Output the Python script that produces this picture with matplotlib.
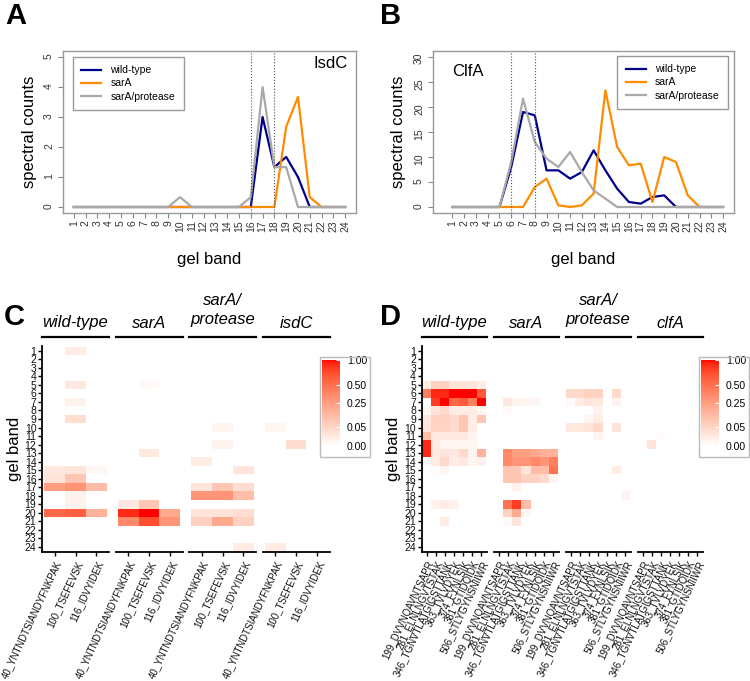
import numpy as np
import matplotlib.pyplot as plt
from matplotlib import colors, cm
from matplotlib.patches import Rectangle

plt.rcParams['font.family'] = ['Liberation Sans', 'DejaVu Sans']

W, H = 750, 681

bands = list(range(1, 25))

# A - IsdC spectral counts per gel band
isdc_wt = [0, 0, 0, 0, 0, 0, 0, 0, 0, 0, 0, 0, 0, 0, 0, 0, 3.0, 1.33, 1.67, 1.0, 0, 0, 0, 0]
isdc_sara = [0, 0, 0, 0, 0, 0, 0, 0, 0, 0, 0, 0, 0, 0, 0, 0, 0, 0, 2.67, 3.67, 0.33, 0, 0, 0]
isdc_prot = [0, 0, 0, 0, 0, 0, 0, 0, 0, 0.33, 0, 0, 0, 0, 0, 0.33, 4.0, 1.33, 1.33, 0, 0, 0, 0, 0]

# B - ClfA spectral counts per gel band
clfa_wt = [0, 0, 0, 0, 0, 8.0, 19.0, 18.33, 7.33, 7.33, 5.67, 7.0, 11.33, 7.33, 3.67, 1.0, 0.67, 2.0, 2.33, 0, 0, 0, 0, 0]
clfa_sara = [0, 0, 0, 0, 0, 0, 0, 4.0, 5.67, 0.33, 0, 0.33, 2.67, 23.33, 12.0, 8.33, 8.67, 1.0, 10.0, 9.0, 2.33, 0, 0, 0]
clfa_prot = [0, 0, 0, 0, 0, 9.0, 21.67, 13.0, 9.67, 8.0, 11.0, 7.0, 3.33, 1.67, 0, 0, 0, 0, 0, 0, 0, 0, 0, 0]

strains = ['wild-type', 'sarA', 'sarA/protease']

# C - IsdC peptides, cells as (gel band, peptide index, normalised value)
isdc_peptides = ['40_YNTNDTSIANDYFNKPAK', '100_TSEFEVSK', '116_IDVYIDEK']
isdc_groups = ['wild-type', 'sarA', 'sarA/\nprotease', 'isdC']
c_wt = [(15, 0, 0.015), (16, 0, 0.02), (17, 0, 0.25), (20, 0, 0.56),
        (1, 1, 0.01), (5, 1, 0.015), (7, 1, 0.006), (9, 1, 0.03), (15, 1, 0.02), (16, 1, 0.09),
        (17, 1, 0.3), (18, 1, 0.006), (19, 1, 0.006), (20, 1, 0.6),
        (15, 2, 0.002), (17, 2, 0.12), (20, 2, 0.16)]
c_sara = [(19, 0, 0.015), (20, 0, 0.9), (21, 0, 0.36),
          (5, 1, 0.001), (13, 1, 0.015), (19, 1, 0.09), (20, 1, 1.0), (21, 1, 0.72),
          (20, 2, 0.2), (21, 2, 0.3)]
c_prot = [(14, 0, 0.01), (17, 0, 0.02), (18, 0, 0.3), (20, 0, 0.02), (21, 0, 0.06),
          (10, 1, 0.003), (12, 1, 0.004), (17, 1, 0.09), (18, 1, 0.3), (20, 1, 0.02), (21, 1, 0.2),
          (15, 2, 0.02), (17, 2, 0.03), (18, 2, 0.12), (20, 2, 0.03), (21, 2, 0.06), (24, 2, 0.01)]
c_mut = [(10, 0, 0.003), (24, 0, 0.01), (12, 1, 0.03)]

# D - ClfA peptides, one row of 7 values per gel band listed
clfa_peptides = ['199_DVVNQAVNTSAPR', '281_ELNLNGVTSTAK', '346_TGNVTLATGIGSTTANK',
                 '363_TVLVDYEK', '374_FYNLSIK', '381_GTIDQIDK', '506_STLYGYNSNIIWR']
clfa_groups = ['wild-type', 'sarA', 'sarA/\nprotease', 'clfA']
d_wt = {5: [0.01, 0.06, 0.06, 0.02, 0.02, 0.02, 0.01],
        6: [0.42, 0.9, 0.9, 1.0, 1.0, 1.0, 0.64],
        7: [0, 0.81, 1.0, 0.56, 0.64, 0.42, 1.0],
        8: [0.003, 0.02, 0.04, 0.01, 0.01, 0.01, 0.003],
        9: [0.015, 0.06, 0.06, 0.04, 0.09, 0.01, 0.09],
        10: [0.02, 0.05, 0.05, 0.04, 0.09, 0.01, 0],
        11: [0.12, 0.015, 0.015, 0.015, 0.015, 0.004, 0],
        12: [0.9, 0.01, 0.003, 0.003, 0.003, 0.003, 0],
        13: [0.9, 0.015, 0.02, 0.015, 0.04, 0.003, 0.16],
        14: [0.001, 0.01, 0.04, 0.01, 0.015, 0.003, 0.006],
        15: [0, 0.0004, 0.003, 0, 0, 0, 0],
        19: [0, 0.004, 0.01, 0.006, 0, 0, 0],
        21: [0, 0, 0.01, 0, 0, 0, 0]}
d_sara = {7: [0, 0.015, 0.004, 0.003, 0.003, 0, 0],
          8: [0, 0.001, 0, 0, 0, 0, 0],
          13: [0, 0.36, 0.25, 0.25, 0.2, 0.16, 0.16],
          14: [0, 0.36, 0.3, 0.3, 0.36, 0.3, 0.42],
          15: [0, 0.09, 0.09, 0.02, 0.12, 0.12, 0.49],
          16: [0, 0.09, 0.09, 0.06, 0.06, 0.04, 0.003],
          17: [0, 0, 0.006, 0, 0, 0, 0],
          19: [0, 0.49, 0.81, 0.12, 0, 0, 0],
          20: [0, 0.06, 0.2, 0.003, 0, 0, 0],
          21: [0, 0.001, 0.02, 0, 0, 0, 0]}
d_prot = {6: [0.04, 0.04, 0.06, 0.06, 0, 0.04, 0],
          7: [0.001, 0.01, 0.02, 0.015, 0, 0.004, 0],
          8: [0, 0, 0, 0.004, 0, 0, 0],
          9: [0, 0, 0.003, 0.01, 0, 0, 0],
          10: [0.015, 0.015, 0.02, 0.04, 0, 0.02, 0],
          11: [0, 0, 0, 0.004, 0, 0, 0],
          15: [0, 0, 0, 0, 0, 0.01, 0],
          18: [0, 0, 0, 0, 0, 0, 0.004]}
d_mut = {11: [0, 0, 0.0004, 0, 0, 0, 0],
         12: [0, 0.02, 0, 0, 0, 0, 0]}


def cells_to_matrix(cells, n):
    m = np.zeros((24, n))
    for b, j, v in cells:
        m[b - 1, j] = v
    return m


def rows_to_matrix(rows, n):
    m = np.zeros((24, n))
    for b, vals in rows.items():
        m[b - 1, :] = vals
    return m


# white -> red gradient interpolated in Lab, like ggplot
def lab_to_rgb(L, a, b):
    fy = (L + 16) / 116
    fx = fy + a / 500
    fz = fy - b / 200
    d = 6 / 29
    finv = lambda t: np.where(t > d, t ** 3, 3 * d ** 2 * (t - 4 / 29))
    X, Y, Z = 0.95047 * finv(fx), finv(fy), 1.08883 * finv(fz)
    r = 3.2406 * X - 1.5372 * Y - 0.4986 * Z
    g = -0.9689 * X + 1.8758 * Y + 0.0415 * Z
    bl = 0.0557 * X - 0.2040 * Y + 1.0570 * Z
    rgb = np.clip(np.stack([r, g, bl], -1), 0, None)
    rgb = np.where(rgb > 0.0031308, 1.055 * rgb ** (1 / 2.4) - 0.055, 12.92 * rgb)
    return np.clip(rgb, 0, 1)


t = np.linspace(0, 1, 256)
lab = np.outer(1 - t, [100, 0, 0]) + np.outer(t, [53.24, 80.09, 67.20])
cmap = colors.ListedColormap(lab_to_rgb(lab[:, 0], lab[:, 1], lab[:, 2]))
norm = colors.PowerNorm(gamma=0.5, vmin=0, vmax=1)

fig = plt.figure(figsize=(W / 100, H / 100), dpi=100)


def px_rect(x0, y0, x1, y1):
    return [x0 / W, 1 - y1 / H, (x1 - x0) / W, (y1 - y0) / H]


def line_panel(rect, wt, sara, prot, xlim, ylim, yticks, vlines, name, name_x, name_y, name_ha, leg_loc, leg_xy):
    ax = fig.add_axes(rect)
    ax.plot(bands, wt, color='darkblue', lw=1.6, label=strains[0])
    ax.plot(bands, sara, color='darkorange', lw=1.6, label=strains[1])
    ax.plot(bands, prot, color='darkgray', lw=1.6, label=strains[2])
    for v in vlines:
        ax.axvline(v, ls=':', color='#555555', lw=0.8)
    ax.set_xlim(xlim)
    ax.set_ylim(ylim)
    ax.set_xticks(bands)
    ax.set_yticks(yticks)
    for s in ax.spines.values():
        s.set_color('#999999')
        s.set_linewidth(1.0)
    ax.tick_params(colors='#888888', labelcolor='#333333', length=3.5, labelsize=7.5, pad=2)
    ax.tick_params(axis='x', labelrotation=90, pad=1.5)
    ax.tick_params(axis='y', labelrotation=90, pad=3)
    ax.set_xlabel('gel band', fontsize=12)
    ax.set_ylabel('spectral counts', fontsize=12)
    ax.xaxis.set_label_coords(0.5, -0.24)
    ax.yaxis.set_label_coords(-0.09, 0.5)
    fig.text(name_x / W, 1 - name_y / H, name, fontsize=12, ha=name_ha, va='center')
    ax.legend(loc=leg_loc, bbox_to_anchor=(leg_xy[0] / W, 1 - leg_xy[1] / H),
              bbox_transform=fig.transFigure, fontsize=7.5, fancybox=False,
              edgecolor='#999999', framealpha=1, handlelength=1.9, handletextpad=0.9,
              labelspacing=0.3, borderpad=0.8, borderaxespad=0)
    return ax


line_panel(px_rect(63, 51, 356, 213), isdc_wt, isdc_sara, isdc_prot, (0.08, 24.92), (-0.2, 5.2),
           range(0, 6), [16, 18], 'IsdC', 348, 64, 'right', 'upper left', (73, 57))
line_panel(px_rect(433, 51, 734, 213), clfa_wt, clfa_sara, clfa_prot, (-0.65, 24.93), (-1.2, 31.2),
           range(0, 31, 5), [6, 8], 'ClfA', 452, 71, 'left', 'upper right', (728, 56))


def heat_panel(starts, width, mats, groups, peptides, bar_x, box_x, box_w):
    y_top, y_bot = 345.7, 552.0
    hs = y_bot - y_top
    for i, (x0, mat, grp) in enumerate(zip(starts, mats, groups)):
        ax = fig.add_axes(px_rect(x0, y_top, x0 + width, y_bot))
        n = mat.shape[1]
        ax.pcolormesh(np.arange(n + 1) - 0.5, np.arange(25) + 0.5, mat, cmap=cmap, norm=norm,
                      edgecolors='none', linewidth=0)
        ax.set_xlim(-0.6, n - 0.4)
        ax.set_ylim(24.6, 0.4)
        ax.spines['top'].set_visible(False)
        ax.spines['right'].set_visible(False)
        ax.spines['bottom'].set_linewidth(1.3)
        ax.set_xticks(range(n))
        ax.set_xticklabels(peptides, rotation=65, ha='right', va='top', rotation_mode='anchor',
                           fontsize=7, color='#111111')
        ax.tick_params(axis='x', length=3, width=1, pad=2)
        if i == 0:
            ax.spines['left'].set_linewidth(1.3)
            ax.set_yticks(bands)
            ax.set_yticklabels([str(b) for b in bands], fontsize=7.5, color='#111111')
            ax.tick_params(axis='y', length=3, width=1, pad=1)
            ax.set_ylabel('gel band', fontsize=12, labelpad=2)
        else:
            ax.spines['left'].set_visible(False)
            ax.set_yticks([])
        # facet strip: label with a rule underneath
        ax.plot([0, 1], [(y_bot - 337) / hs] * 2, color='black', lw=1.6,
                transform=ax.transAxes, clip_on=False)
        ty = 310 if '\n' in grp else 323
        ax.text(0.5, (y_bot - ty) / hs, grp, transform=ax.transAxes, ha='center', va='center',
                fontsize=12, style='italic', linespacing=1.35)
    # colour bar legend
    fig.add_artist(Rectangle((box_x / W, 1 - 457 / H), box_w / W, 100 / H, transform=fig.transFigure,
                             fill=False, edgecolor='#bbbbbb', lw=1))
    cax = fig.add_axes(px_rect(bar_x, 360, bar_x + 18, 446))
    cb = fig.colorbar(cm.ScalarMappable(norm=norm, cmap=cmap), cax=cax, ticks=[0, 0.05, 0.25, 0.5, 1])
    cb.ax.set_yticklabels(['0.00', '0.05', '0.25', '0.50', '1.00'])
    cb.outline.set_visible(False)
    cb.ax.tick_params(direction='in', color='white', length=3, labelsize=7.5, pad=5)


heat_panel([42, 115.5, 189, 262.5], 67,
           [cells_to_matrix(c, 3) for c in (c_wt, c_sara, c_prot, c_mut)],
           isdc_groups, isdc_peptides, 322, 320, 50)
heat_panel([421.5, 493.5, 565.5, 637.5], 65,
           [rows_to_matrix(r, 7) for r in (d_wt, d_sara, d_prot, d_mut)],
           clfa_groups, clfa_peptides, 701, 699, 50)

for lab_txt, x, y in [('A', 5, 16), ('B', 380, 16), ('C', 4, 317), ('D', 380, 317)]:
    fig.text(x / W, 1 - y / H, lab_txt, fontsize=21, fontweight='bold', ha='left', va='center')

fig.savefig('out.png', dpi=100)
